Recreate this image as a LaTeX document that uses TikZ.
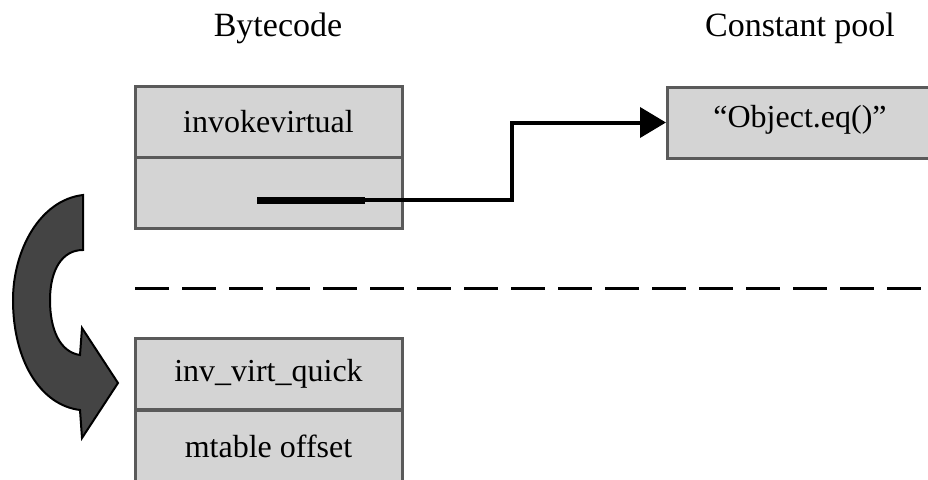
\documentclass[tikz,border=0pt]{standalone}
\usepackage{fontspec}
\setmainfont{Liberation Serif}
\usetikzlibrary{arrows.meta}
\definecolor{cellgray}{HTML}{D4D4D4}
\definecolor{edgegray}{HTML}{5A5A5A}
\definecolor{turngray}{HTML}{444444}
\begin{document}
\begin{tikzpicture}[x=0.5pt,y=-0.5pt,
  cell/.style={draw=edgegray,line width=1.5pt,fill=cellgray,minimum width=133.5pt,minimum height=35.5pt,inner sep=0pt,font=\fontsize{16}{18}\selectfont},
  title/.style={font=\fontsize{17}{19}\selectfont}]
  \useasboundingbox (0,0) rectangle (928,479);
  \begin{scope}
  \clip (0,0) rectangle (928,479);

  % Headings
  \node[title] (bytecode) at (278,28) {Bytecode};
  \node[title] (cpool) at (800,28) {Constant pool};

  % Bytecode before rewriting
  \node[cell] (invoke) at (268.5,122) {invokevirtual};
  \node[cell] (operand) at (268.5,193) {};

  % Constant pool entry
  \node[cell,minimum width=140pt,anchor=west] (entry) at (666,122.5) {};
  \node[font=\fontsize{16}{18}\selectfont] (entrytext) at (800,120) {“Object.eq()”};

  % Reference into the pool
  \coordinate (ref) at (257,200);
  \coordinate (refend) at (365,200);
  \draw[line width=3.5pt] (ref) -- (refend);
  \draw[line width=2pt,-{Triangle[length=13pt,width=15pt]}] (refend) -- (512,200) |- (entry.west);

  % Separator
  \draw[line width=1.5pt,dash pattern=on 17pt off 6.5pt] (135,288) -- (928,288);

  % Bytecode after rewriting
  \node[cell] (quick) at (268.5,374) {inv\_virt\_quick};
  \node[cell] (offset) at (268.5,446) {mtable offset};

  % Rewrite arrow
  \draw[line width=1pt,fill=turngray] (83,195) .. controls (40,200) and (13,250) .. (13,300)
    .. controls (13,360) and (40,405) .. (80,410) -- (82,438) -- (118,383) -- (82,328) -- (80,355)
    .. controls (60,352) and (50,330) .. (50,300) .. controls (50,270) and (62,250) .. (83,250) -- cycle;
  \end{scope}
\end{tikzpicture}
\end{document}
